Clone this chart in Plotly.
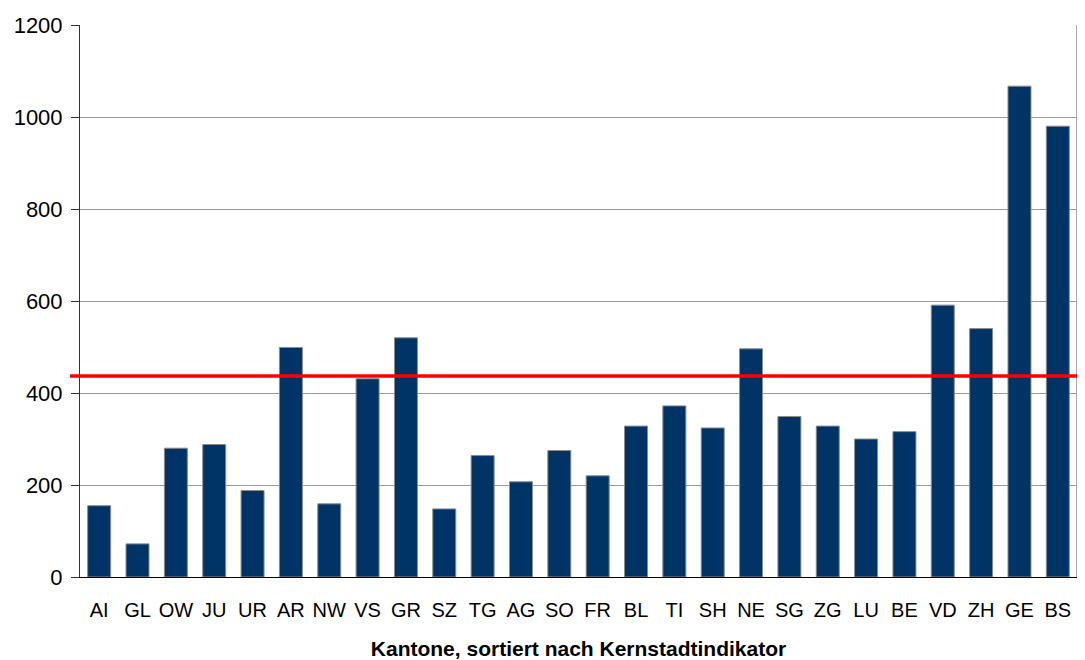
import plotly.graph_objects as go

cantons = ["AI", "GL", "OW", "JU", "UR", "AR", "NW", "VS", "GR", "SZ", "TG", "AG", "SO",
           "FR", "BL", "TI", "SH", "NE", "SG", "ZG", "LU", "BE", "VD", "ZH", "GE", "BS"]
values = [155, 72, 280, 288, 188, 499, 159, 431, 520, 148, 264, 207, 275,
          220, 328, 372, 324, 496, 349, 328, 300, 316, 591, 540, 1067, 980]
reference_value = 437
y_ticks = [0, 200, 400, 600, 800, 1000, 1200]
x_title = "Kantone, sortiert nach Kernstadtindikator"

FONT = "Liberation Sans, Arial, sans-serif"

fig = go.Figure()
fig.add_trace(go.Bar(
    x=cantons, y=values,
    marker=dict(color="#003366", line=dict(color="#8c8c8c", width=1)),
    width=0.6,
    showlegend=False,
))

# red reference line (extends slightly beyond the plot area)
fig.add_shape(type="line", xref="paper", yref="y",
              x0=-0.01, x1=1.008, y0=reference_value, y1=reference_value,
              line=dict(color="#ff0000", width=3.5), layer="above")
# right border
fig.add_shape(type="line", xref="paper", yref="paper",
              x0=1, x1=1, y0=0, y1=1,
              line=dict(color="#8c8c8c", width=1.5), layer="below")

# the page body adds an 8px margin, so the figure is sized to compensate
fig.update_layout(
    width=1077, height=652,
    margin=dict(l=72, r=8, t=17, b=83),
    paper_bgcolor="white", plot_bgcolor="white",
    font=dict(family=FONT, size=20, color="black"),
    xaxis=dict(
        automargin=False,
        showline=True, linecolor="black", linewidth=1,
        ticks="", showgrid=False,
        tickfont=dict(size=20),
        ticklabelstandoff=15,
        title=dict(text="<b>" + x_title + "</b>", font=dict(size=21), standoff=31),
    ),
    yaxis=dict(
        automargin=False,
        range=[0, 1200], tickvals=y_ticks,
        showline=True, linecolor="#333333", linewidth=1,
        ticks="outside", ticklen=8, tickcolor="#333333",
        showgrid=True, gridcolor="#999999", gridwidth=1,
        zeroline=False,
        tickfont=dict(size=22),
        ticklabelstandoff=4,
    ),
    bargap=0.4,
)

fig.write_html("out.html")
